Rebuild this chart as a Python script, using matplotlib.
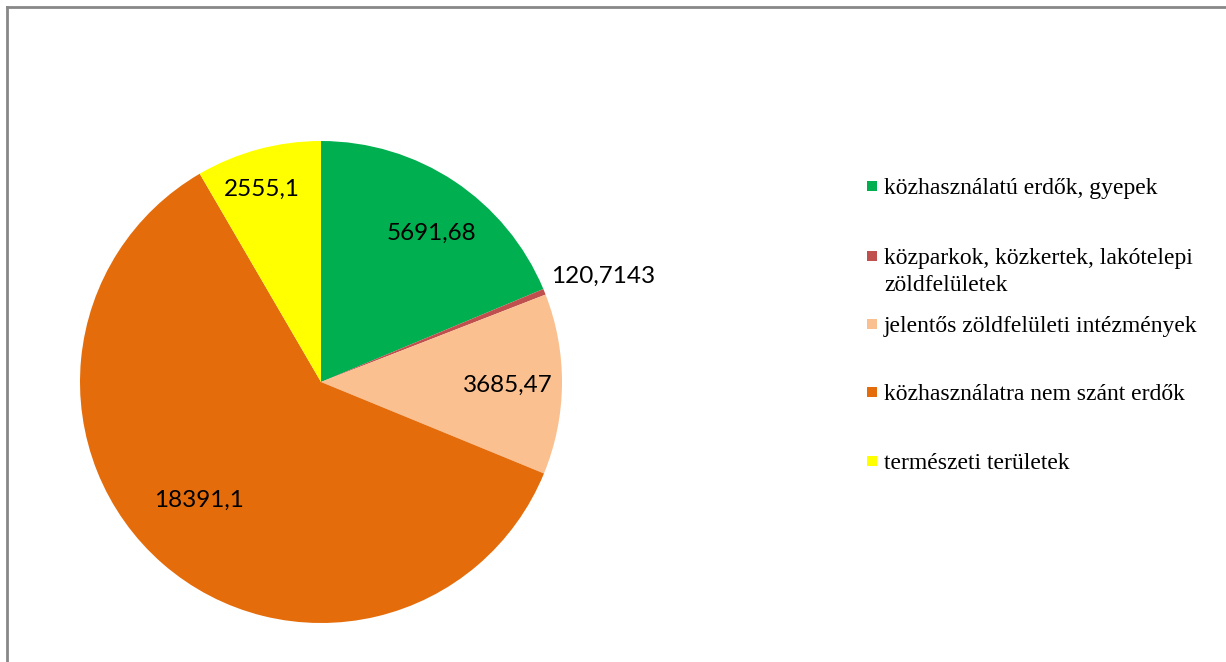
import numpy as np
import matplotlib.pyplot as plt
from matplotlib.patches import Rectangle

categories = [
    "közhasználatú erdők, gyepek",
    "közparkok, közkertek, lakótelepi\nzöldfelületek",
    "jelentős zöldfelületi intézmények",
    "közhasználatra nem szánt erdők",
    "természeti területek",
]
values = [5691.68, 120.7143, 3685.47, 18391.1, 2555.1]
value_labels = ["5691,68", "120,7143", "3685,47", "18391,1", "2555,1"]
colors = ["#00B050", "#C0504D", "#FAC090", "#E46C0A", "#FFFF00"]

W, H = 1226, 662
fig = plt.figure(figsize=(W / 100, H / 100), dpi=100)

# pie axes: centre (321, 382) px, radius 241 px
cx, cy, r = 321, 382, 241
ax = fig.add_axes([(cx - r) / W, 1 - (cy + r) / H, 2 * r / W, 2 * r / H])
wedges, _ = ax.pie(values, colors=colors, startangle=90, counterclock=False,
                   radius=1.0, wedgeprops=dict(linewidth=0))
ax.set_xlim(-1, 1)
ax.set_ylim(-1, 1)
ax.set_aspect("equal")
ax.axis("off")

# value labels placed around each wedge's mid-angle
label_dist = [0.768, 1.25, 0.776, 0.704, 0.838]
label_shift = [-2.8, -1.4, -0.4, -4.9, 2.0]  # degrees
label_font = ["Lato", "DejaVu Sans"]
for w, lab, d, s in zip(wedges, value_labels, label_dist, label_shift):
    ang = np.deg2rad((w.theta1 + w.theta2) / 2 + s)
    ax.text(d * np.cos(ang), d * np.sin(ang), lab, ha="center", va="center",
            fontsize=17.5, family=label_font, color="black")

# legend
leg_y = [186, 256, 324, 392, 461]
line_step = 27
serif = ["Liberation Serif", "DejaVu Serif"]
for y, lab, c in zip(leg_y, categories, colors):
    fig.patches.append(Rectangle((867 / W, 1 - (y + 5) / H), 10 / W, 10 / H,
                                 transform=fig.transFigure, facecolor=c,
                                 edgecolor="none"))
    for i, line in enumerate(lab.split("\n")):
        fig.text(884 / W, 1 - (y + i * line_step) / H, line, ha="left",
                 va="center_baseline", fontsize=17, family=serif)

# outer frame
frame = dict(color="#888888", linewidth=2, transform=fig.transFigure)
fig.lines.append(plt.Line2D([7 / W, 7 / W], [0, 1 - 7 / H], **frame))
fig.lines.append(plt.Line2D([7 / W, 1], [1 - 7 / H, 1 - 7 / H], **frame))

fig.savefig("out.png", dpi=100)
